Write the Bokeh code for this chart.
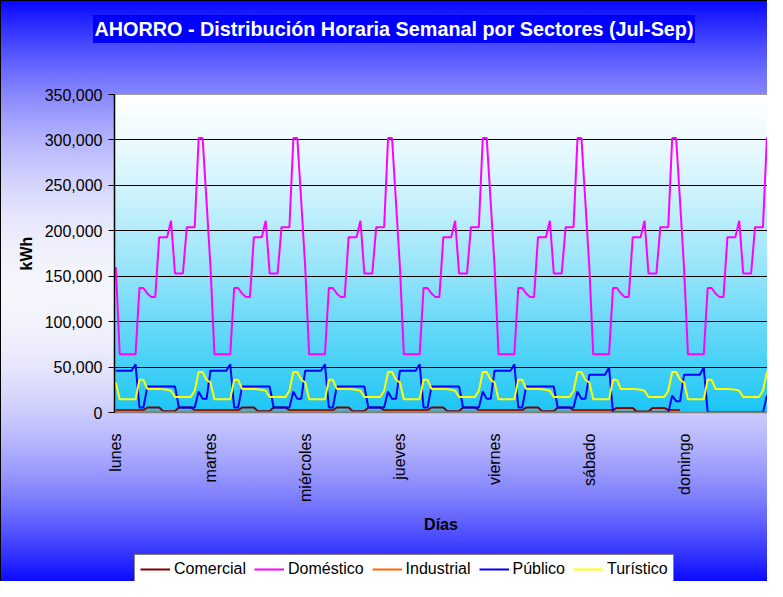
import math
import numpy as np
from bokeh.plotting import figure
from bokeh.layouts import column
from bokeh.models import (ColumnDataSource, Range1d, FixedTicker, SingleIntervalTicker,
                          NumeralTickFormatter, Legend, LegendItem, Div)
from bokeh.embed import file_html
from bokeh.resources import INLINE

NaN = float("nan")

days = ["lunes", "martes", "miércoles", "jueves", "viernes", "sábado", "domingo"]
series_names = ["Comercial", "Doméstico", "Industrial", "Público", "Turístico"]
chart_title = "AHORRO - Distribución Horaria Semanal por Sectores (Jul-Sep)"

# hourly values (kWh), one row per day, 24 hours each
comercial_days = [
    [2500, 2500, 2500, 2500, 2500, 2500, 2500, 2500, 5500, 5500, 5500, 5500, 1500, 1500, 1500, 1500, 5500, 5500, 5500, 5500, 2500, 2500, 2500, 2500],
    [2500, 2500, 2500, 2500, 2500, 2500, 2500, 2500, 5500, 5500, 5500, 5500, 1500, 1500, 1500, 1500, 5500, 5500, 5500, 5500, 2500, 2500, 2500, 2500],
    [2500, 2500, 2500, 2500, 2500, 2500, 2500, 2500, 5500, 5500, 5500, 5500, 1500, 1500, 1500, 1500, 5500, 5500, 5500, 5500, 2500, 2500, 2500, 2500],
    [2500, 2500, 2500, 2500, 2500, 2500, 2500, 2500, 5500, 5500, 5500, 5500, 1500, 1500, 1500, 1500, 5500, 5500, 5500, 5500, 2500, 2500, 2500, 2500],
    [2500, 2500, 2500, 2500, 2500, 2500, 2500, 2500, 5500, 5500, 5500, 5500, 1500, 1500, 1500, 1500, 5500, 5500, 5500, 5500, 2500, 2500, 2500, 2500],
    [2500, 2500, 2500, 2500, 2500, 2500, 2500, 5000, 5000, 5000, 5000, 5000, 1000, 1000, 1000, 1000, 5000, 5000, 5000, 5000, 2500, 2500, 2500, 2500],
    [NaN, NaN, NaN, NaN, NaN, NaN, NaN, NaN, NaN, NaN, NaN, NaN, NaN, NaN, NaN, NaN, NaN, NaN, NaN, NaN, NaN, NaN, NaN, NaN],
]
domestico_days = [
    [160000, 64000, 64000, 64000, 64000, 64000, 137000, 137000, 131000, 127000, 127000, 193000, 193000, 193000, 211000, 153000, 153000, 153000, 204000, 204000, 204000, 302000, 302000, 232000],
    [160000, 64000, 64000, 64000, 64000, 64000, 137000, 137000, 131000, 127000, 127000, 193000, 193000, 193000, 211000, 153000, 153000, 153000, 204000, 204000, 204000, 302000, 302000, 232000],
    [160000, 64000, 64000, 64000, 64000, 64000, 137000, 137000, 131000, 127000, 127000, 193000, 193000, 193000, 211000, 153000, 153000, 153000, 204000, 204000, 204000, 302000, 302000, 232000],
    [160000, 64000, 64000, 64000, 64000, 64000, 137000, 137000, 131000, 127000, 127000, 193000, 193000, 193000, 211000, 153000, 153000, 153000, 204000, 204000, 204000, 302000, 302000, 232000],
    [160000, 64000, 64000, 64000, 64000, 64000, 137000, 137000, 131000, 127000, 127000, 193000, 193000, 193000, 211000, 153000, 153000, 153000, 204000, 204000, 204000, 302000, 302000, 232000],
    [160000, 64000, 64000, 64000, 64000, 64000, 137000, 137000, 131000, 127000, 127000, 193000, 193000, 193000, 211000, 153000, 153000, 153000, 204000, 204000, 204000, 302000, 302000, 232000],
    [160000, 64000, 64000, 64000, 64000, 64000, 137000, 137000, 131000, 127000, 127000, 193000, 193000, 193000, 211000, 153000, 153000, 153000, 204000, 204000, 204000, 302000, 302000, 235000],
]
industrial_days = [
    [800, 800, 800, 800, 800, 800, 800, 800, 800, 800, 800, 800, 0, 0, 0, 0, 800, 800, 800, 800, 800, 800, 800, 800],
    [800, 800, 800, 800, 800, 800, 800, 800, 800, 800, 800, 800, 0, 0, 0, 0, 800, 800, 800, 800, 800, 800, 800, 800],
    [800, 800, 800, 800, 800, 800, 800, 800, 800, 800, 800, 800, 0, 0, 0, 0, 800, 800, 800, 800, 800, 800, 800, 800],
    [800, 800, 800, 800, 800, 800, 800, 800, 800, 800, 800, 800, 0, 0, 0, 0, 800, 800, 800, 800, 800, 800, 800, 800],
    [800, 800, 800, 800, 800, 800, 800, 800, 800, 800, 800, 800, 0, 0, 0, 0, 800, 800, 800, 800, 800, 800, 800, 800],
    [800, 800, 800, 800, 800, 800, 800, 800, 800, 800, 800, 800, 0, 0, 0, 0, 800, 800, 800, 800, 800, 800, 800, 800],
    [NaN, NaN, NaN, NaN, NaN, NaN, NaN, NaN, NaN, NaN, NaN, NaN, NaN, NaN, NaN, NaN, NaN, NaN, NaN, NaN, NaN, NaN, NaN, NaN],
]
publico_days = [
    [46000, 46000, 46000, 46000, 46000, 53000, 5500, 5500, 28500, 28500, 28500, 28500, 28500, 28500, 28500, 28500, 5500, 5500, 5500, 5500, 5500, 23000, 15000, 15000],
    [46000, 46000, 46000, 46000, 46000, 53000, 5500, 5500, 28500, 28500, 28500, 28500, 28500, 28500, 28500, 28500, 5500, 5500, 5500, 5500, 5500, 23000, 15000, 15000],
    [46000, 46000, 46000, 46000, 46000, 53000, 5500, 5500, 28500, 28500, 28500, 28500, 28500, 28500, 28500, 28500, 5500, 5500, 5500, 5500, 5500, 23000, 15000, 15000],
    [46000, 46000, 46000, 46000, 46000, 53000, 5500, 5500, 28500, 28500, 28500, 28500, 28500, 28500, 28500, 28500, 5500, 5500, 5500, 5500, 5500, 23000, 15000, 15000],
    [46000, 46000, 46000, 46000, 46000, 53000, 5500, 5500, 28500, 28500, 28500, 28500, 28500, 28500, 28500, 28500, 5500, 5500, 5500, 5500, 5500, 23000, 15000, 15000],
    [41500, 41500, 41500, 41500, 41500, 49500, 0, 0, 0, 0, 0, 0, 0, 0, 0, 0, 0, 0, 0, 0, 0, 18500, 12500, 12500],
    [41500, 41500, 41500, 41500, 41500, 49500, 0, 0, 0, 0, 0, 0, 0, 0, 0, 0, 0, 0, 0, 0, 0, 18500, 12500, 12500],
]
turistico_days = [
    [33000, 14500, 14500, 14500, 14500, 14500, 36000, 36000, 26000, 26000, 26000, 26000, 25500, 25000, 24000, 17000, 17000, 17000, 17000, 17000, 24000, 44500, 44500, 36000],
    [33000, 14500, 14500, 14500, 14500, 14500, 36000, 36000, 26000, 26000, 26000, 26000, 25500, 25000, 24000, 17000, 17000, 17000, 17000, 17000, 24000, 44500, 44500, 36000],
    [33000, 14500, 14500, 14500, 14500, 14500, 36000, 36000, 26000, 26000, 26000, 26000, 25500, 25000, 24000, 17000, 17000, 17000, 17000, 17000, 24000, 44500, 44500, 36000],
    [33000, 14500, 14500, 14500, 14500, 14500, 36000, 36000, 26000, 26000, 26000, 26000, 25500, 25000, 24000, 17000, 17000, 17000, 17000, 17000, 24000, 44500, 44500, 36000],
    [33000, 14500, 14500, 14500, 14500, 14500, 36000, 36000, 26000, 26000, 26000, 26000, 25500, 25000, 24000, 17000, 17000, 17000, 17000, 17000, 24000, 44500, 44500, 36000],
    [33000, 14500, 14500, 14500, 14500, 14500, 36000, 36000, 26000, 26000, 26000, 26000, 25500, 25000, 24000, 17000, 17000, 17000, 17000, 17000, 24000, 44500, 44500, 36000],
    [33000, 14500, 14500, 14500, 14500, 14500, 36000, 36000, 26000, 26000, 26000, 26000, 25500, 25000, 24000, 17000, 17000, 17000, 17000, 17000, 24000, 44500, 44500, 36000],
]

colors = ["#800000", "#ff00ff", "#ff6600", "#0000ff", "#ffff00"]

def flat(rows):
    return [v for row in rows for v in row]

hours_per_day = len(domestico_days[0])
n_points = hours_per_day * len(days)
source = ColumnDataSource(dict(
    hora=list(range(n_points)),
    comercial=flat(comercial_days),
    domestico=flat(domestico_days),
    industrial=flat(industrial_days),
    publico=flat(publico_days),
    turistico=flat(turistico_days),
))
columns = ["comercial", "domestico", "industrial", "publico", "turistico"]

FONT = "Liberation Sans"
W = 767
HT, H1, H2 = 44, 504, 33          # title strip, chart, legend strip (total 581)
ML, MT = 114, 50
FRAME_H = 318
MB = H1 - MT - FRAME_H
frame_w = W - ML
px_per_hour = 3.946
x0 = -1.3 / px_per_hour
x1 = x0 + frame_w / px_per_hour
ymax = 350000

def bg_gradient(page_top, height, left_border=True, top_border=True):
    stops = []
    for k in range(0, 21):
        frac = k / 20
        page_y = page_top + frac * height
        f = min(abs(page_y - 300) / 295.0, 1.0)
        w = 1 - f * f
        r = int(round(245 * w))
        b = int(round(255 - 3 * w))
        stops.append(f"rgb({r},{r},{b}) {frac*100:.1f}%")
    shadow = f"inset {1 if left_border else 0}px {1 if top_border else 0}px 0 0 #000000"
    return {"background": "linear-gradient(to bottom, " + ", ".join(stops) + ")",
            "box-shadow": shadow}

# ---- title strip
title_div = Div(
    text=('<div style="position:relative; left:93px; top:15px; width:602px; height:28px; '
          'background:#0000ff; color:#ffffff; font-family:\'Liberation Sans\'; font-weight:bold; '
          'font-size:19.8px; line-height:28px; text-align:center; white-space:nowrap;">'
          + chart_title + '</div>'),
    width=W, height=HT, margin=0, styles=bg_gradient(8, HT, True, True))

# ---- chart
p = figure(width=W, height=H1, output_backend="svg", toolbar_location=None,
           x_range=Range1d(x0, x1), y_range=Range1d(0, ymax),
           min_border_left=ML, min_border_right=0, min_border_top=MT, min_border_bottom=MB)
p.styles = bg_gradient(8 + HT, H1, True, False)
p.border_fill_alpha = 0
p.background_fill_alpha = 0
p.outline_line_color = "#808080"
p.outline_line_width = 1

# plot-area gradient (white top -> cyan bottom)
n = FRAME_H
img = np.empty((n, 1), dtype=np.uint32)
view = img.view(dtype=np.uint8).reshape((n, 1, 4))
top_c = np.array([255, 255, 255])
bot_c = np.array([28, 198, 245])
for rr in range(n):
    t = 1 - (rr + 0.5) / n
    c = top_c + (bot_c - top_c) * (t ** 1.3)
    view[rr, 0, 0] = int(c[0]); view[rr, 0, 1] = int(c[1]); view[rr, 0, 2] = int(c[2]); view[rr, 0, 3] = 255
p.image_rgba(image=[img], x=x0, y=0, dw=x1 - x0, dh=ymax, level="image")

for col, colr in zip(columns, colors):
    p.line("hora", col, source=source, line_color=colr, line_width=2)

# axes
p.xaxis.ticker = FixedTicker(ticks=[d * hours_per_day for d in range(len(days))])
p.xaxis.major_label_overrides = {d * hours_per_day: name for d, name in enumerate(days)}
p.xaxis.major_label_orientation = math.pi / 2
p.xaxis.major_label_text_font = FONT
p.xaxis.major_label_text_font_size = "16px"
p.xaxis.major_label_text_color = "#000000"
p.xaxis.major_label_standoff = 21
p.xaxis.major_tick_out = 0
p.xaxis.major_tick_in = 0
p.xaxis.minor_tick_line_color = None
p.xaxis.axis_line_color = "#808080"
p.xaxis.axis_line_width = 1.5
p.xaxis.axis_label = "Días"
p.xaxis.axis_label_text_font = FONT
p.xaxis.axis_label_text_font_size = "16px"
p.xaxis.axis_label_text_font_style = "bold"
p.xaxis.axis_label_text_color = "#000000"
p.xaxis.axis_label_standoff = 11

p.yaxis.ticker = SingleIntervalTicker(interval=50000)
p.yaxis.formatter = NumeralTickFormatter(format="0,0")
p.yaxis.major_label_text_font = FONT
p.yaxis.major_label_text_font_size = "16px"
p.yaxis.major_label_text_color = "#000000"
p.yaxis.major_label_standoff = 6
p.yaxis.major_tick_out = 6
p.yaxis.major_tick_in = 0
p.yaxis.major_tick_line_color = "#000000"
p.yaxis.minor_tick_line_color = None
p.yaxis.axis_line_color = "#000000"
p.yaxis.axis_line_width = 1.5
p.yaxis.axis_label = "kWh"
p.yaxis.axis_label_text_font = FONT
p.yaxis.axis_label_text_font_size = "16px"
p.yaxis.axis_label_text_font_style = "bold"
p.yaxis.axis_label_text_color = "#000000"
p.yaxis.axis_label_standoff = 7

p.xgrid.grid_line_color = None
p.ygrid.ticker = SingleIntervalTicker(interval=50000)
p.ygrid.grid_line_color = "#000000"
p.ygrid.grid_line_width = 1

# ---- legend strip (same background)
lg = figure(width=W, height=H2, output_backend="svg", toolbar_location=None,
            x_range=Range1d(0, 1), y_range=Range1d(0, 1),
            x_axis_type=None, y_axis_type=None,
            min_border_left=0, min_border_right=0, min_border_top=0, min_border_bottom=0)
lg.styles = bg_gradient(8 + HT + H1, H2, True, False)
lg.border_fill_alpha = 0
lg.background_fill_alpha = 0
lg.outline_line_color = None
lg.grid.grid_line_color = None
legend_renderers = [lg.line(x=[NaN, NaN], y=[NaN, NaN], line_color=colr, line_width=2) for colr in colors]
legend = Legend(items=[LegendItem(label=nm, renderers=[r]) for nm, r in zip(series_names, legend_renderers)],
                orientation="horizontal", location=(20, -3),
                label_text_font=FONT, label_text_font_size="16px", label_text_color="#000000",
                glyph_width=30, glyph_height=16, label_height=16, label_standoff=4,
                spacing=8, padding=5, margin=0,
                border_line_color="#000000", border_line_width=1,
                background_fill_color="#ffffff", background_fill_alpha=1)
lg.add_layout(legend)

layout = column(title_div, p, lg, spacing=0)
open("out.html", "w").write(file_html(layout, INLINE))
